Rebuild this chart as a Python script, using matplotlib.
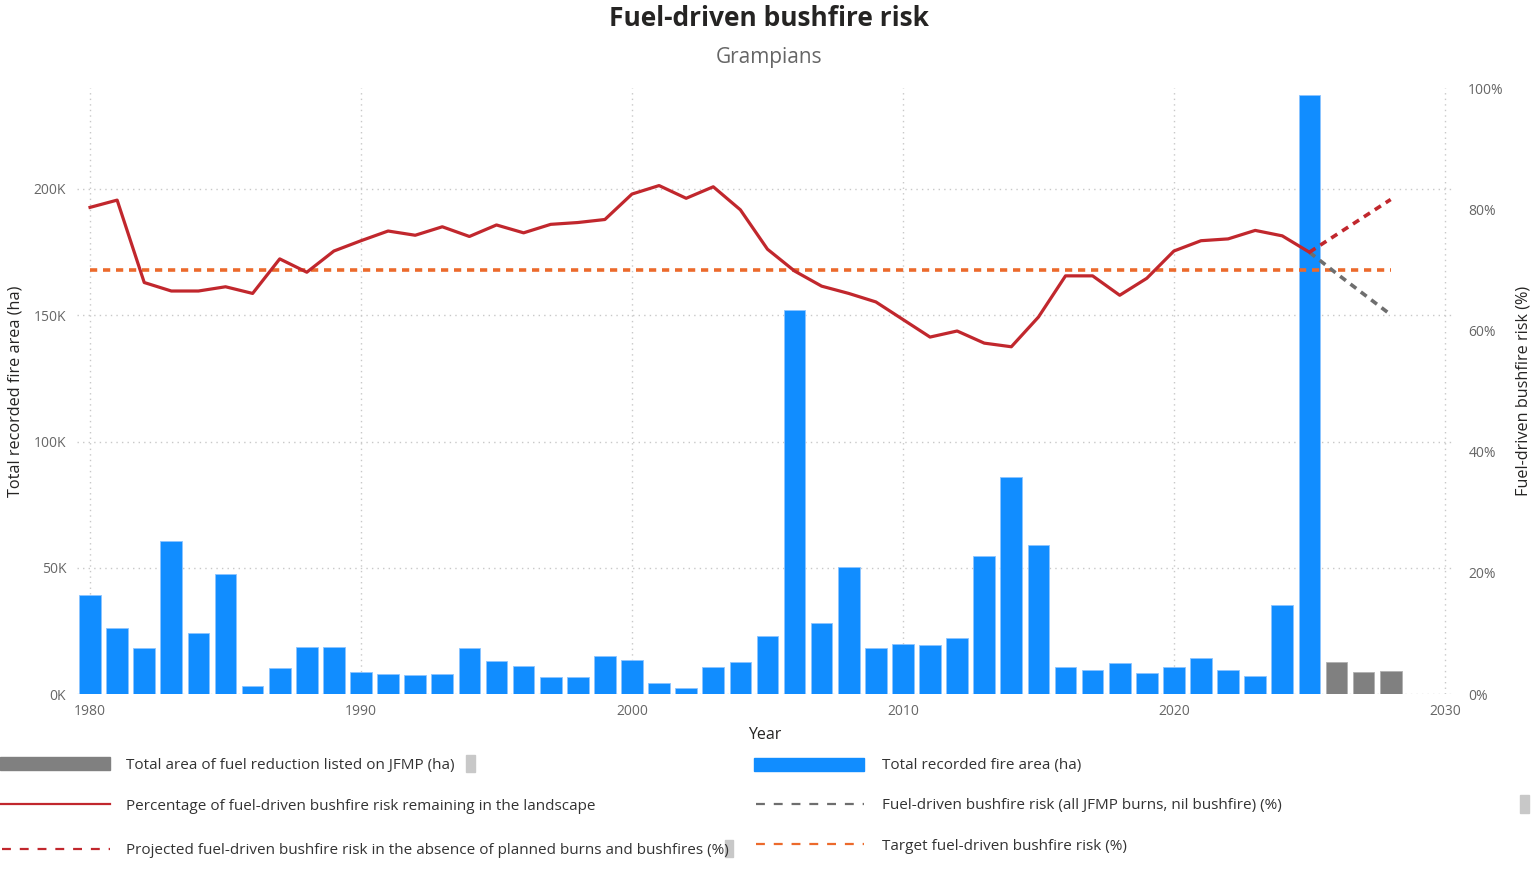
import matplotlib
matplotlib.use("Agg")
import matplotlib.pyplot as plt
from matplotlib.patches import Rectangle
from matplotlib.lines import Line2D
from matplotlib.ticker import FuncFormatter

plt.rcParams['font.family'] = ['Open Sans', 'DejaVu Sans']

# ---------------- data ----------------
fire_years = list(range(1980, 2026))
fire_area_k = [39.2, 26.0, 18.3, 60.7, 24.2, 47.5, 3.0, 10.4, 18.5, 18.7,
               8.7, 7.9, 7.5, 7.8, 18.3, 13.1, 11.0, 6.6, 6.9, 15.2,
               13.6, 4.2, 2.2, 10.7, 12.8, 23.1, 152.0, 28.2, 50.4, 18.3,
               19.7, 19.5, 22.0, 54.6, 85.9, 59.1, 10.7, 9.4, 12.1, 8.4,
               10.7, 14.2, 9.6, 7.3, 35.2, 237.3]
jfmp_years = [2026, 2027, 2028]
jfmp_area_k = [12.5, 8.7, 9.2]

risk_years = list(range(1980, 2026))
risk_pct = [80.3, 81.5, 67.9, 66.5, 66.5, 67.2, 66.1, 71.8, 69.6, 73.1,
            74.8, 76.4, 75.7, 77.1, 75.5, 77.4, 76.1, 77.5, 77.8, 78.3,
            82.5, 83.9, 81.8, 83.7, 79.9, 73.4, 69.8, 67.3, 66.1, 64.7,
            61.8, 58.9, 59.9, 57.9, 57.3, 62.2, 69.0, 69.0, 65.8, 68.6,
            73.1, 74.8, 75.1, 76.5, 75.6, 72.9]
proj_years = [2025, 2026, 2027, 2028]
proj_nil_pct = [72.9, 75.8, 78.7, 81.6]
proj_jfmp_pct = [72.9, 69.4, 66.0, 62.6]
target_years = [1980, 2028]
target_pct = [70.0, 70.0]

left_ticks_k = [0, 50, 100, 150, 200]
right_ticks_pct = [0, 20, 40, 60, 80, 100]
year_ticks = [1980, 1990, 2000, 2010, 2020, 2030]

title = "Fuel-driven bushfire risk"
subtitle = "Grampians"
legend_labels = [
    "Total area of fuel reduction listed on JFMP (ha)",
    "Percentage of fuel-driven bushfire risk remaining in the landscape",
    "Projected fuel-driven bushfire risk in the absence of planned burns and bushfires (%)",
    "Total recorded fire area (ha)",
    "Fuel-driven bushfire risk (all JFMP burns, nil bushfire) (%)",
    "Target fuel-driven bushfire risk (%)",
]

# ---------------- style ----------------
BLUE = "#118DFF"
BAR_GREY = "#808080"
RED = "#C1272D"
ORANGE = "#EC6A2C"
DGREY = "#6E6E6E"
TICK_C = "#666666"
LABEL_C = "#252423"
GRID_C = "#C8C8C8"

W, H = 1536, 876
fig = plt.figure(figsize=(W / 100, H / 100), dpi=100)

ax_l, ax_r, ax_b, ax_t = 76.5, 1453, 694, 88
ax = fig.add_axes([ax_l / W, 1 - ax_b / H, (ax_r - ax_l) / W, (ax_b - ax_t) / H])
ax2 = ax.twinx()

ax.bar(fire_years, fire_area_k, width=0.8, color=BLUE, edgecolor="#8CC4FF",
       linewidth=0.6, zorder=2)
ax.bar(jfmp_years, jfmp_area_k, width=0.8, color=BAR_GREY, edgecolor="#B0B0B0",
       linewidth=0.6, zorder=2)

ax.set_xlim(1979.5, 2030.3)
ax.set_ylim(0, 240)
ax.set_yticks(left_ticks_k)
ax.yaxis.set_major_formatter(FuncFormatter(lambda v, p: f"{int(v)}K"))
ax.set_xticks(year_ticks)
ax.grid(True, color=GRID_C, linestyle=(0, (1, 3)), linewidth=1.0, zorder=0)
ax.set_axisbelow(True)
for s in ax.spines.values():
    s.set_visible(False)
for s in ax2.spines.values():
    s.set_visible(False)
ax.tick_params(axis="both", length=0, colors=TICK_C, labelsize=10, pad=7.5)
ax.tick_params(axis="x", pad=7)

ax2.plot(target_years, target_pct, color=ORANGE, lw=2.6, linestyle=(0, (2.0, 1.6)), zorder=3)
ax2.plot(proj_years, proj_jfmp_pct, color=DGREY, lw=2.6, linestyle=(0, (2.0, 1.6)), zorder=4)
ax2.plot(proj_years, proj_nil_pct, color=RED, lw=2.6, linestyle=(0, (2.0, 1.6)), zorder=4)
ax2.plot(risk_years, risk_pct, color=RED, lw=2.3, zorder=5, solid_joinstyle="round")
ax2.set_ylim(0, 100)
ax2.set_yticks(right_ticks_pct)
ax2.yaxis.set_major_formatter(FuncFormatter(lambda v, p: f"{int(v)}%"))
ax2.tick_params(axis="y", length=0, colors=TICK_C, labelsize=10, pad=11)

ax.set_xlabel("Year", color=LABEL_C, fontsize=11.5, labelpad=6)
ax.set_ylabel("Total recorded fire area (ha)", color=LABEL_C, fontsize=11.7, labelpad=7)
ax2.set_ylabel("Fuel-driven bushfire risk (%)", color=LABEL_C, fontsize=11.7, labelpad=8)

fig.text(769 / W, 1 - 19 / H, title, ha="center", va="center", fontsize=19,
         fontweight="bold", color="#252423")
fig.text(769 / W, 1 - 57 / H, subtitle, ha="center", va="center", fontsize=15,
         color="#666666")

# ---------------- legend (manual, pixel coords) ----------------
lax = fig.add_axes([0, 0, 1, 1])
lax.set_xlim(0, W)
lax.set_ylim(H, 0)
lax.axis("off")
lax.patch.set_alpha(0)

lax.add_patch(Rectangle((0, 757), 110, 13, color=BAR_GREY))
lax.add_line(Line2D([0, 110], [804, 804], color=RED, lw=1.6))
lax.add_line(Line2D([2, 110], [849, 849], color=RED, lw=1.6, linestyle=(0, (4, 4))))
lax.add_patch(Rectangle((754, 758), 110, 13, color=BLUE))
lax.add_line(Line2D([756, 864], [804, 804], color=DGREY, lw=1.6, linestyle=(0, (4, 4))))
lax.add_line(Line2D([756, 864], [844, 844], color=ORANGE, lw=1.6, linestyle=(0, (4, 4))))

txt_kw = dict(fontsize=11, color="#333333", va="center", ha="left")
lax.text(126, 765, legend_labels[0], **txt_kw)
lax.text(126, 806, legend_labels[1], **txt_kw)
lax.text(126, 850, legend_labels[2], **txt_kw)
lax.text(882, 765, legend_labels[3], **txt_kw)
lax.text(882, 806, legend_labels[4], **txt_kw)
lax.text(882, 846, legend_labels[5], **txt_kw)

for (x, y, w, h) in [(466, 755, 9, 17), (725, 840, 8, 17), (1520, 795, 9, 18)]:
    lax.add_patch(Rectangle((x, y), w, h, color="#C8C8C8"))

fig.savefig("out.png", dpi=100, facecolor="white")
